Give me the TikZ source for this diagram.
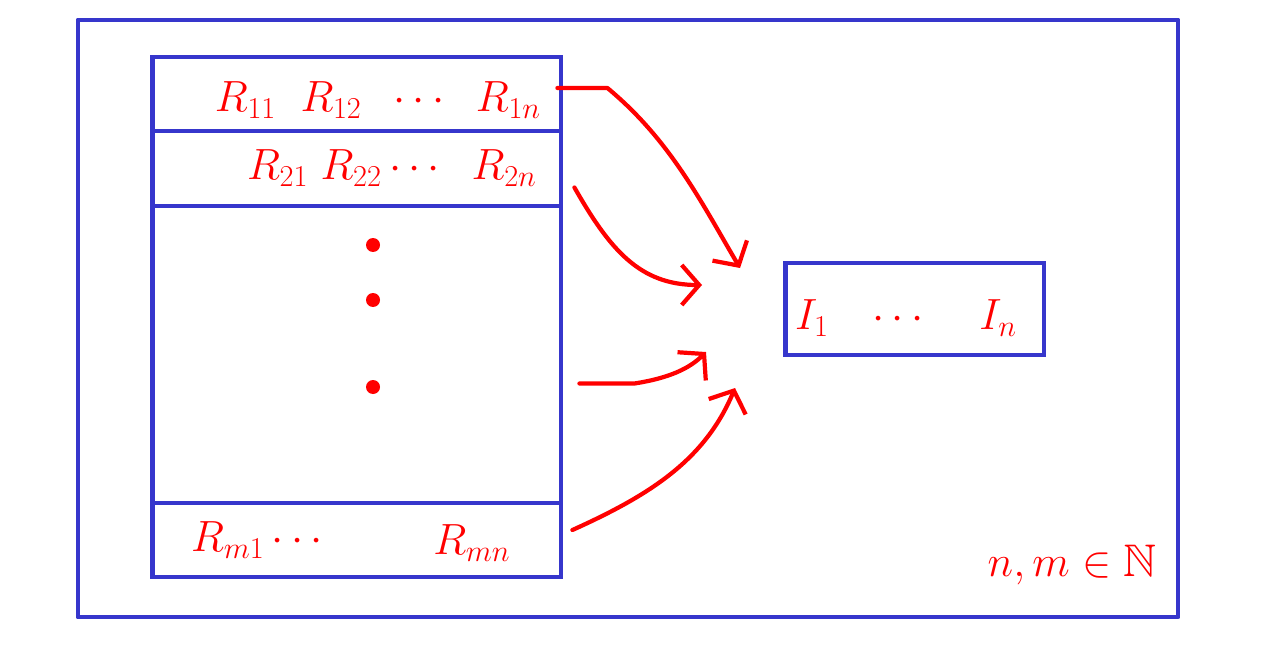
\documentclass[tikz,border=0pt]{standalone}
\usepackage{amssymb}
\usetikzlibrary{arrows.meta,calc}
\definecolor{penblue}{RGB}{54,54,204}
\definecolor{penred}{RGB}{255,0,0}

\begin{document}
\begin{tikzpicture}[x=0.02cm,y=-0.02cm,
    rowbox/.style={draw=penblue,line width=2.8pt,minimum width=8.18cm,inner sep=0pt},
    entry/.style={text=penred,font=\fontsize{26}{30}\selectfont},
    link/.style={draw=penred,line width=2.4pt,line cap=round,line join=round,
      -{Straight Barb[length=3.5mm,width=8mm,line width=2.4pt]}}]
  \useasboundingbox (0,0) rectangle (1273,655);
  \draw[penblue,line width=2.8pt,line join=round] (78,20) rectangle (1178,617);

  % the table of rows
  \node[rowbox,minimum height=1.48cm] (row1) at (356.5,94) {};
  \node[rowbox,minimum height=1.5cm] (row2) at (356.5,168.5) {};
  \node[rowbox,minimum height=5.94cm] (rowdots) at (356.5,354.5) {};
  \node[rowbox,minimum height=1.48cm] (rowm) at (356.5,540) {};

  \node[entry] (r1) at (378,100) {$R_{11}\;\;R_{12}\;\;\cdots\;\;R_{1n}$};
  \node[entry] (r2) at (392,168) {$R_{21}\;R_{22}\cdots\;\;R_{2n}$};
  \node[entry] (rm1) at (257,540) {$R_{m1}\cdots$};
  \node[entry] (rmn) at (472,543) {$R_{mn}$};
  \foreach \y in {245,300,387}
    \fill[penred] (373,\y) circle (0.14cm);

  % result box
  \node[draw=penblue,line width=2.8pt,minimum width=5.18cm,minimum height=1.84cm,
    inner sep=0pt] (ibox) at (914.5,309) {};
  \node[entry] (iv) at (906,318) {$I_1\;\;\;\cdots\;\;\;\;I_n$};
  \node[entry] (nat) at (1072,565) {$n,m\in\mathbb{N}$};

  \coordinate (t1) at (740,268);
  \coordinate (t2) at (702,285);
  \coordinate (t3) at (706,352);
  \coordinate (t4) at (735,388);

  \draw[link] ($(row1.east)+(-6,-6)$) -- ++(50,0)
    .. controls (670,140) and (700,200) .. (t1);
  \draw[link] ($(row2.east)+(11,19)$) .. controls (610,250) and (640,285) .. (t2);
  \draw[link] ($(rowdots.east)+(16,29)$) -- ++(55,0)
    .. controls (670,378) and (690,368) .. (t3);
  \draw[link] ($(rowm.east)+(9,-10)$) .. controls (650,495) and (705,460) .. (t4);
\end{tikzpicture}
\end{document}
